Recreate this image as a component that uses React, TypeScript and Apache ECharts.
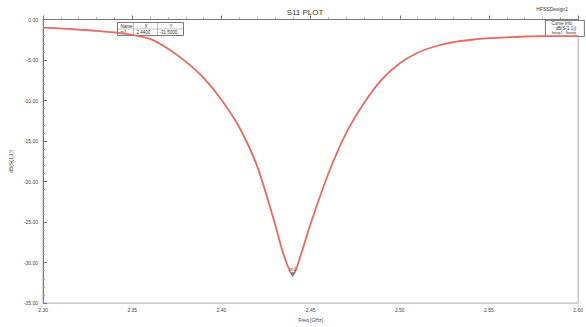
import React, { useEffect, useRef } from "react";
import * as echarts from "echarts";

const freqGHz = [2.30, 2.31, 2.32, 2.33, 2.34, 2.35, 2.36, 2.37, 2.38, 2.39, 2.40, 2.41, 2.42, 2.43, 2.435, 2.44, 2.445, 2.45, 2.46, 2.47, 2.48, 2.49, 2.50, 2.51, 2.52, 2.53, 2.54, 2.55, 2.56, 2.57, 2.58, 2.59, 2.60];
const s11dB = [-1.0, -1.1, -1.25, -1.4, -1.6, -1.9, -2.4, -3.6, -5.2, -7.2, -9.9, -13.3, -18.1, -25.2, -29.1, -31.5, -28.7, -25.2, -19.0, -14.0, -10.3, -7.4, -5.4, -4.1, -3.3, -2.8, -2.5, -2.3, -2.2, -2.1, -2.05, -2.05, -2.05];
const markerName = "m1";
const markerFreq = 2.44;
const markerDB = -31.5;

export default function App() {
  const ref = useRef<HTMLDivElement>(null);
  useEffect(() => {
    if (!ref.current) return;
    const chart = echarts.init(ref.current, null, { renderer: "svg" });
    const font = "Liberation Sans";
    const tiny = { fontFamily: font, fontSize: 5, color: "#444" };
    chart.setOption({
      animation: false,
      backgroundColor: "#fff",
      title: {
        text: "S11 PLOT",
        left: 300,
        top: 3,
        textAlign: "center",
        textStyle: { fontFamily: font, fontSize: 8, color: "#333", fontWeight: "normal" },
      },
      grid: { left: 39, right: 7, top: 19.5, bottom: 12, show: true, borderColor: "#aaa", borderWidth: 1 },
      xAxis: {
        type: "value",
        min: 2.3,
        max: 2.6,
        interval: 0.05,
        name: "Freq [GHz]",
        nameLocation: "middle",
        nameGap: 8,
        nameTextStyle: { ...tiny, fontSize: 5 },
        axisLine: { show: true, lineStyle: { color: "#777" } },
        axisTick: { show: true, inside: true, length: 4, lineStyle: { color: "#777" } },
        minorTick: { show: true, splitNumber: 5, length: 2, lineStyle: { color: "#999" } },
        splitLine: { show: false },
        axisLabel: { ...tiny, margin: 4, formatter: (v: number) => v.toFixed(2) },
      },
      yAxis: {
        type: "value",
        min: -35,
        max: 0,
        interval: 5,
        name: "dB(S(1,1))",
        nameLocation: "middle",
        nameGap: 23,
        nameRotate: 90,
        nameTextStyle: { ...tiny, fontSize: 5 },
        axisLine: { show: true, lineStyle: { color: "#777" } },
        axisTick: { show: true, inside: true, length: 4, lineStyle: { color: "#777" } },
        minorTick: { show: true, splitNumber: 5, length: 2, lineStyle: { color: "#999" } },
        splitLine: { show: false },
        axisLabel: { ...tiny, margin: 5, formatter: (v: number) => v.toFixed(2) },
      },
      series: [
        {
          type: "line",
          data: freqGHz.map((f, i) => [f, s11dB[i]]),
          smooth: 0.3,
          showSymbol: false,
          lineStyle: { color: "#e66a62", width: 1.8 },
          markPoint: {
            symbol: "triangle",
            symbolSize: 5,
            symbolRotate: 180,
            itemStyle: { color: "#777" },
            label: { show: true, position: "top", formatter: markerName, ...tiny, fontSize: 5, distance: 1 },
            data: [{ coord: [markerFreq, markerDB] }],
          },
        },
      ],
      graphic: [
        {
          type: "text",
          right: 18,
          top: 6,
          style: { text: "HFSSDesign1", fontFamily: font, fontSize: 5, fill: "#333" },
        },
        {
          type: "group",
          left: 115,
          top: 20,
          children: [
            { type: "rect", shape: { x: 0, y: 0, width: 66, height: 13 }, style: { fill: "#fff", stroke: "#555", lineWidth: 0.8 } },
            { type: "line", shape: { x1: 0, y1: 6.5, x2: 66, y2: 6.5 }, style: { stroke: "#888", lineWidth: 0.5 } },
            { type: "line", shape: { x1: 16, y1: 0, x2: 16, y2: 13 }, style: { stroke: "#888", lineWidth: 0.5 } },
            { type: "line", shape: { x1: 40, y1: 0, x2: 40, y2: 13 }, style: { stroke: "#888", lineWidth: 0.5 } },
            { type: "text", x: 3, y: 1, style: { text: "Name", fontFamily: font, fontSize: 4.5, fill: "#333" } },
            { type: "text", x: 27, y: 1, style: { text: "X", fontFamily: font, fontSize: 4.5, fill: "#333" } },
            { type: "text", x: 52, y: 1, style: { text: "Y", fontFamily: font, fontSize: 4.5, fill: "#333" } },
            { type: "text", x: 3, y: 7.5, style: { text: markerName, fontFamily: font, fontSize: 4.5, fill: "#333" } },
            { type: "text", x: 19, y: 7.5, style: { text: markerFreq.toFixed(4), fontFamily: font, fontSize: 4.5, fill: "#333" } },
            { type: "text", x: 42, y: 7.5, style: { text: markerDB.toFixed(4), fontFamily: font, fontSize: 4.5, fill: "#333" } },
          ],
        },
        {
          type: "group",
          left: 545,
          top: 20,
          children: [
            { type: "rect", shape: { x: 0, y: 0, width: 39, height: 16 }, style: { fill: "#fff", stroke: "#555", lineWidth: 0.8 } },
            { type: "text", x: 6, y: 1, style: { text: "Curve Info", fontFamily: font, fontSize: 4.5, fill: "#333" } },
            { type: "text", x: 10, y: 6, style: { text: "dB(S(1,1))", fontFamily: font, fontSize: 4.5, fill: "#333" } },
            { type: "text", x: 6, y: 11, style: { text: "Setup1 : Sweep", fontFamily: font, fontSize: 3.5, fill: "#333" } },
          ],
        },
      ],
    });
    return () => chart.dispose();
  }, []);
  return <div ref={ref} style={{ width: 586, height: 327, position: "absolute", left: 0, top: 0 }} />;
}
